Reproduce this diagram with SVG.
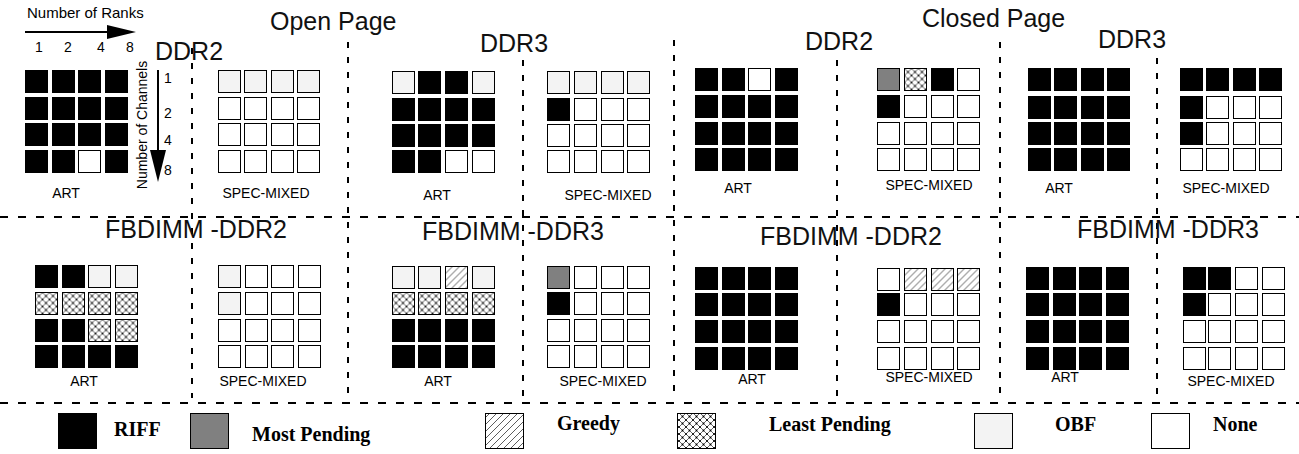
<svg xmlns="http://www.w3.org/2000/svg" xmlns:xlink="http://www.w3.org/1999/xlink" width="1299" height="454" viewBox="0 0 1299 454">
<style>
.c{stroke:#000;stroke-width:1}
.b{fill:#000}
.m{fill:#808080}
.g{fill:url(#hatch)}
.l{fill:url(#cross)}
.o{fill:#f3f3f3}
.n{fill:#fff}
.dv{stroke:#000;stroke-width:2;stroke-dasharray:6 9;fill:none}
.dh{stroke:#000;stroke-width:2;stroke-dasharray:8 10;fill:none}
.big{font-family:"Liberation Sans",Arial,sans-serif;font-size:25px;fill:#111}
.lbl{font-family:"Liberation Sans",Arial,sans-serif;font-size:14px;fill:#000}
.leg{font-family:"Liberation Serif","Times New Roman",serif;font-weight:bold;font-size:20px;fill:#000}
</style>
<defs>
<pattern id="hatch" patternUnits="userSpaceOnUse" width="7" height="7">
<rect width="7" height="7" fill="#fff"/>
<path d="M-1,1 L1,-1 M0,7 L7,0 M6,8 L8,6" stroke="#333" stroke-width="0.8"/>
</pattern>
<pattern id="cross" patternUnits="userSpaceOnUse" width="7" height="7">
<rect width="7" height="7" fill="#fff"/>
<path d="M0,0 L7,7 M7,0 L0,7" stroke="#222" stroke-width="0.7"/>
<circle cx="3.5" cy="3.5" r="0.9" fill="#000"/>
<circle cx="0" cy="0" r="0.9" fill="#000"/><circle cx="7" cy="0" r="0.9" fill="#000"/>
<circle cx="0" cy="7" r="0.9" fill="#000"/><circle cx="7" cy="7" r="0.9" fill="#000"/>
</pattern>
<rect id="B" class="c b" width="22" height="22"/>
<rect id="M" class="c m" width="22" height="22"/>
<rect id="G" class="c g" width="22" height="22"/>
<rect id="L" class="c l" width="22" height="22"/>
<rect id="O" class="c o" width="22" height="22"/>
<rect id="N" class="c n" width="22" height="22"/>
</defs>
<rect width="1299" height="454" fill="#fff"/>

<g id="connectors">
<line class="dh" x1="0" y1="217" x2="1299" y2="217"/>
<line class="dh" x1="0" y1="403" x2="1299" y2="403"/>
<line class="dv" x1="192" y1="48" x2="192" y2="398"/>
<line class="dv" x1="348" y1="42" x2="348" y2="398"/>
<line class="dv" x1="523" y1="60" x2="523" y2="398"/>
<line class="dv" x1="674" y1="40" x2="674" y2="398"/>
<line class="dv" x1="837" y1="60" x2="837" y2="398"/>
<line class="dv" x1="1000" y1="42" x2="1000" y2="398"/>
<line class="dv" x1="1157" y1="58" x2="1157" y2="398"/>
</g>

<g id="titles">
<text class="big" x="270" y="30">Open Page</text>
<text class="big" x="922" y="27">Closed Page</text>
</g>

<g id="axes">
<text class="lbl" x="27" y="18" style="font-size:15px">Number of Ranks</text>
<line x1="25" y1="32" x2="110" y2="32" stroke="#000" stroke-width="2"/>
<polygon points="107,25 136,32 107,39" fill="#000"/>
<text class="lbl" x="39" y="52" text-anchor="middle">1</text>
<text class="lbl" x="68" y="52" text-anchor="middle">2</text>
<text class="lbl" x="101" y="52" text-anchor="middle">4</text>
<text class="lbl" x="130" y="52" text-anchor="middle">8</text>
<text class="lbl" transform="translate(147 125) rotate(-90)" text-anchor="middle">Number of Channels</text>
<line x1="158" y1="70" x2="158" y2="155" stroke="#000" stroke-width="2"/>
<polygon points="150,150 166,150 158,182" fill="#000"/>
<text class="lbl" x="164" y="83">1</text>
<text class="lbl" x="164" y="118">2</text>
<text class="lbl" x="164" y="145">4</text>
<text class="lbl" x="164" y="175">8</text>
</g>

<g id="open-ddr2">
<text class="big" x="155" y="60">DDR2</text>
<g transform="translate(.5 .5)">
<use href="#B" x="25" y="70"/><use href="#B" x="52" y="70"/><use href="#B" x="78" y="70"/><use href="#B" x="105" y="70"/>
<use href="#B" x="25" y="97"/><use href="#B" x="52" y="97"/><use href="#B" x="78" y="97"/><use href="#B" x="105" y="97"/>
<use href="#B" x="25" y="123"/><use href="#B" x="52" y="123"/><use href="#B" x="78" y="123"/><use href="#B" x="105" y="123"/>
<use href="#B" x="25" y="150"/><use href="#B" x="52" y="150"/><use href="#N" x="78" y="150"/><use href="#B" x="105" y="150"/>
<use href="#O" x="218" y="70"/><use href="#O" x="244" y="70"/><use href="#O" x="271" y="70"/><use href="#O" x="297" y="70"/>
<use href="#N" x="218" y="97"/><use href="#N" x="244" y="97"/><use href="#N" x="271" y="97"/><use href="#N" x="297" y="97"/>
<use href="#N" x="218" y="123"/><use href="#N" x="244" y="123"/><use href="#N" x="271" y="123"/><use href="#N" x="297" y="123"/>
<use href="#N" x="218" y="150"/><use href="#N" x="244" y="150"/><use href="#N" x="271" y="150"/><use href="#N" x="297" y="150"/>
</g>
<text class="lbl" x="66" y="198" text-anchor="middle">ART</text>
<text class="lbl" x="266" y="198" text-anchor="middle">SPEC-MIXED</text>
</g>

<g id="open-ddr3">
<text class="big" x="480" y="52">DDR3</text>
<g transform="translate(.5 .5)">
<use href="#O" x="392" y="71"/><use href="#B" x="418" y="71"/><use href="#B" x="445" y="71"/><use href="#O" x="472" y="71"/>
<use href="#B" x="392" y="98"/><use href="#B" x="418" y="98"/><use href="#B" x="445" y="98"/><use href="#B" x="472" y="98"/>
<use href="#B" x="392" y="124"/><use href="#B" x="418" y="124"/><use href="#B" x="445" y="124"/><use href="#B" x="472" y="124"/>
<use href="#B" x="392" y="150"/><use href="#B" x="418" y="150"/><use href="#N" x="445" y="150"/><use href="#N" x="472" y="150"/>
<use href="#O" x="547" y="71"/><use href="#O" x="574" y="71"/><use href="#O" x="601" y="71"/><use href="#O" x="627" y="71"/>
<use href="#B" x="547" y="98"/><use href="#N" x="574" y="98"/><use href="#N" x="601" y="98"/><use href="#N" x="627" y="98"/>
<use href="#N" x="547" y="124"/><use href="#N" x="574" y="124"/><use href="#N" x="601" y="124"/><use href="#N" x="627" y="124"/>
<use href="#N" x="547" y="150"/><use href="#N" x="574" y="150"/><use href="#N" x="601" y="150"/><use href="#N" x="627" y="150"/>
</g>
<text class="lbl" x="437" y="200" text-anchor="middle">ART</text>
<text class="lbl" x="608" y="200" text-anchor="middle">SPEC-MIXED</text>
</g>

<g id="closed-ddr2">
<text class="big" x="805" y="50">DDR2</text>
<g transform="translate(.5 .5)">
<use href="#B" x="695" y="68"/><use href="#B" x="722" y="68"/><use href="#N" x="748" y="68"/><use href="#B" x="775" y="68"/>
<use href="#B" x="695" y="95"/><use href="#B" x="722" y="95"/><use href="#B" x="748" y="95"/><use href="#B" x="775" y="95"/>
<use href="#B" x="695" y="122"/><use href="#B" x="722" y="122"/><use href="#B" x="748" y="122"/><use href="#B" x="775" y="122"/>
<use href="#B" x="695" y="148"/><use href="#B" x="722" y="148"/><use href="#B" x="748" y="148"/><use href="#B" x="775" y="148"/>
<use href="#M" x="877" y="68"/><use href="#L" x="904" y="68"/><use href="#B" x="931" y="68"/><use href="#N" x="957" y="68"/>
<use href="#B" x="877" y="95"/><use href="#N" x="904" y="95"/><use href="#N" x="931" y="95"/><use href="#N" x="957" y="95"/>
<use href="#N" x="877" y="122"/><use href="#N" x="904" y="122"/><use href="#N" x="931" y="122"/><use href="#N" x="957" y="122"/>
<use href="#N" x="877" y="148"/><use href="#N" x="904" y="148"/><use href="#N" x="931" y="148"/><use href="#N" x="957" y="148"/>
</g>
<text class="lbl" x="738" y="193" text-anchor="middle">ART</text>
<text class="lbl" x="929" y="190" text-anchor="middle">SPEC-MIXED</text>
</g>

<g id="closed-ddr3">
<text class="big" x="1098" y="48">DDR3</text>
<g transform="translate(.5 .5)">
<use href="#B" x="1028" y="68"/><use href="#B" x="1054" y="68"/><use href="#B" x="1081" y="68"/><use href="#B" x="1107" y="68"/>
<use href="#B" x="1028" y="96"/><use href="#B" x="1054" y="96"/><use href="#B" x="1081" y="96"/><use href="#B" x="1107" y="96"/>
<use href="#B" x="1028" y="122"/><use href="#B" x="1054" y="122"/><use href="#B" x="1081" y="122"/><use href="#B" x="1107" y="122"/>
<use href="#B" x="1028" y="148"/><use href="#B" x="1054" y="148"/><use href="#B" x="1081" y="148"/><use href="#B" x="1107" y="148"/>
<use href="#B" x="1180" y="68"/><use href="#B" x="1206" y="68"/><use href="#B" x="1233" y="68"/><use href="#B" x="1259" y="68"/>
<use href="#B" x="1180" y="96"/><use href="#N" x="1206" y="96"/><use href="#N" x="1233" y="96"/><use href="#N" x="1259" y="96"/>
<use href="#B" x="1180" y="122"/><use href="#N" x="1206" y="122"/><use href="#N" x="1233" y="122"/><use href="#N" x="1259" y="122"/>
<use href="#N" x="1180" y="148"/><use href="#N" x="1206" y="148"/><use href="#N" x="1233" y="148"/><use href="#N" x="1259" y="148"/>
</g>
<text class="lbl" x="1059" y="193" text-anchor="middle">ART</text>
<text class="lbl" x="1226" y="193" text-anchor="middle">SPEC-MIXED</text>
</g>

<g id="open-fbdimm-ddr2">
<text class="big" x="105" y="238">FBDIMM -DDR2</text>
<g transform="translate(.5 .5)">
<use href="#B" x="35" y="265"/><use href="#B" x="62" y="265"/><use href="#O" x="88" y="265"/><use href="#O" x="115" y="265"/>
<use href="#L" x="35" y="292"/><use href="#L" x="62" y="292"/><use href="#L" x="88" y="292"/><use href="#L" x="115" y="292"/>
<use href="#B" x="35" y="319"/><use href="#B" x="62" y="319"/><use href="#L" x="88" y="319"/><use href="#L" x="115" y="319"/>
<use href="#B" x="35" y="345"/><use href="#B" x="62" y="345"/><use href="#B" x="88" y="345"/><use href="#B" x="115" y="345"/>
<use href="#O" x="218" y="265"/><use href="#N" x="245" y="265"/><use href="#N" x="271" y="265"/><use href="#N" x="298" y="265"/>
<use href="#O" x="218" y="292"/><use href="#N" x="245" y="292"/><use href="#N" x="271" y="292"/><use href="#N" x="298" y="292"/>
<use href="#N" x="218" y="319"/><use href="#N" x="245" y="319"/><use href="#N" x="271" y="319"/><use href="#N" x="298" y="319"/>
<use href="#N" x="218" y="345"/><use href="#N" x="245" y="345"/><use href="#N" x="271" y="345"/><use href="#N" x="298" y="345"/>
</g>
<text class="lbl" x="84" y="386" text-anchor="middle">ART</text>
<text class="lbl" x="263" y="386" text-anchor="middle">SPEC-MIXED</text>
</g>

<g id="open-fbdimm-ddr3">
<text class="big" x="422" y="240">FBDIMM -DDR3</text>
<g transform="translate(.5 .5)">
<use href="#O" x="392" y="266"/><use href="#O" x="418" y="266"/><use href="#G" x="445" y="266"/><use href="#O" x="472" y="266"/>
<use href="#L" x="392" y="292"/><use href="#L" x="418" y="292"/><use href="#L" x="445" y="292"/><use href="#L" x="472" y="292"/>
<use href="#B" x="392" y="319"/><use href="#B" x="418" y="319"/><use href="#B" x="445" y="319"/><use href="#B" x="472" y="319"/>
<use href="#B" x="392" y="345"/><use href="#B" x="418" y="345"/><use href="#B" x="445" y="345"/><use href="#B" x="472" y="345"/>
<use href="#M" x="547" y="266"/><use href="#N" x="574" y="266"/><use href="#N" x="601" y="266"/><use href="#N" x="627" y="266"/>
<use href="#B" x="547" y="292"/><use href="#N" x="574" y="292"/><use href="#N" x="601" y="292"/><use href="#N" x="627" y="292"/>
<use href="#N" x="547" y="319"/><use href="#N" x="574" y="319"/><use href="#N" x="601" y="319"/><use href="#N" x="627" y="319"/>
<use href="#N" x="547" y="345"/><use href="#N" x="574" y="345"/><use href="#N" x="601" y="345"/><use href="#N" x="627" y="345"/>
</g>
<text class="lbl" x="438" y="386" text-anchor="middle">ART</text>
<text class="lbl" x="603" y="386" text-anchor="middle">SPEC-MIXED</text>
</g>

<g id="closed-fbdimm-ddr2">
<text class="big" x="760" y="245">FBDIMM -DDR2</text>
<g transform="translate(.5 .5)">
<use href="#B" x="695" y="267"/><use href="#B" x="722" y="267"/><use href="#B" x="748" y="267"/><use href="#B" x="775" y="267"/>
<use href="#B" x="695" y="293"/><use href="#B" x="722" y="293"/><use href="#B" x="748" y="293"/><use href="#B" x="775" y="293"/>
<use href="#B" x="695" y="320"/><use href="#B" x="722" y="320"/><use href="#B" x="748" y="320"/><use href="#B" x="775" y="320"/>
<use href="#B" x="695" y="347"/><use href="#B" x="722" y="347"/><use href="#B" x="748" y="347"/><use href="#B" x="775" y="347"/>
<use href="#N" x="877" y="268"/><use href="#G" x="904" y="268"/><use href="#G" x="931" y="268"/><use href="#G" x="957" y="268"/>
<use href="#B" x="877" y="293"/><use href="#N" x="904" y="293"/><use href="#N" x="931" y="293"/><use href="#N" x="957" y="293"/>
<use href="#N" x="877" y="320"/><use href="#N" x="904" y="320"/><use href="#N" x="931" y="320"/><use href="#N" x="957" y="320"/>
<use href="#N" x="877" y="347"/><use href="#N" x="904" y="347"/><use href="#N" x="931" y="347"/><use href="#N" x="957" y="347"/>
</g>
<text class="lbl" x="752" y="384" text-anchor="middle">ART</text>
<text class="lbl" x="929" y="382" text-anchor="middle">SPEC-MIXED</text>
</g>

<g id="closed-fbdimm-ddr3">
<text class="big" x="1077" y="238">FBDIMM -DDR3</text>
<g transform="translate(.5 .5)">
<use href="#B" x="1026" y="267"/><use href="#B" x="1053" y="267"/><use href="#B" x="1079" y="267"/><use href="#B" x="1106" y="267"/>
<use href="#B" x="1026" y="293"/><use href="#B" x="1053" y="293"/><use href="#B" x="1079" y="293"/><use href="#B" x="1106" y="293"/>
<use href="#B" x="1026" y="320"/><use href="#B" x="1053" y="320"/><use href="#B" x="1079" y="320"/><use href="#B" x="1106" y="320"/>
<use href="#B" x="1026" y="347"/><use href="#B" x="1053" y="347"/><use href="#B" x="1079" y="347"/><use href="#B" x="1106" y="347"/>
<use href="#B" x="1183" y="267"/><use href="#B" x="1208" y="267"/><use href="#N" x="1235" y="267"/><use href="#N" x="1262" y="267"/>
<use href="#B" x="1183" y="293"/><use href="#N" x="1208" y="293"/><use href="#N" x="1235" y="293"/><use href="#N" x="1262" y="293"/>
<use href="#N" x="1183" y="320"/><use href="#N" x="1208" y="320"/><use href="#N" x="1235" y="320"/><use href="#N" x="1262" y="320"/>
<use href="#N" x="1183" y="347"/><use href="#N" x="1208" y="347"/><use href="#N" x="1235" y="347"/><use href="#N" x="1262" y="347"/>
</g>
<text class="lbl" x="1065" y="382" text-anchor="middle">ART</text>
<text class="lbl" x="1231" y="386" text-anchor="middle">SPEC-MIXED</text>
</g>

<g id="legend">
<rect class="c b" x="58.5" y="413.5" width="38" height="35"/>
<text class="leg" x="114" y="436">RIFF</text>
<rect class="c m" x="190.5" y="413.5" width="38" height="35"/>
<text class="leg" x="252" y="441">Most Pending</text>
<rect class="c g" x="485.5" y="413.5" width="38" height="35"/>
<text class="leg" x="557" y="430">Greedy</text>
<rect class="c l" x="677.5" y="413.5" width="38" height="35"/>
<text class="leg" x="769" y="431">Least Pending</text>
<rect class="c o" x="974.5" y="413.5" width="38" height="35"/>
<text class="leg" x="1055" y="431">OBF</text>
<rect class="c n" x="1151.5" y="413.5" width="38" height="35"/>
<text class="leg" x="1213" y="431">None</text>
</g>
</svg>
